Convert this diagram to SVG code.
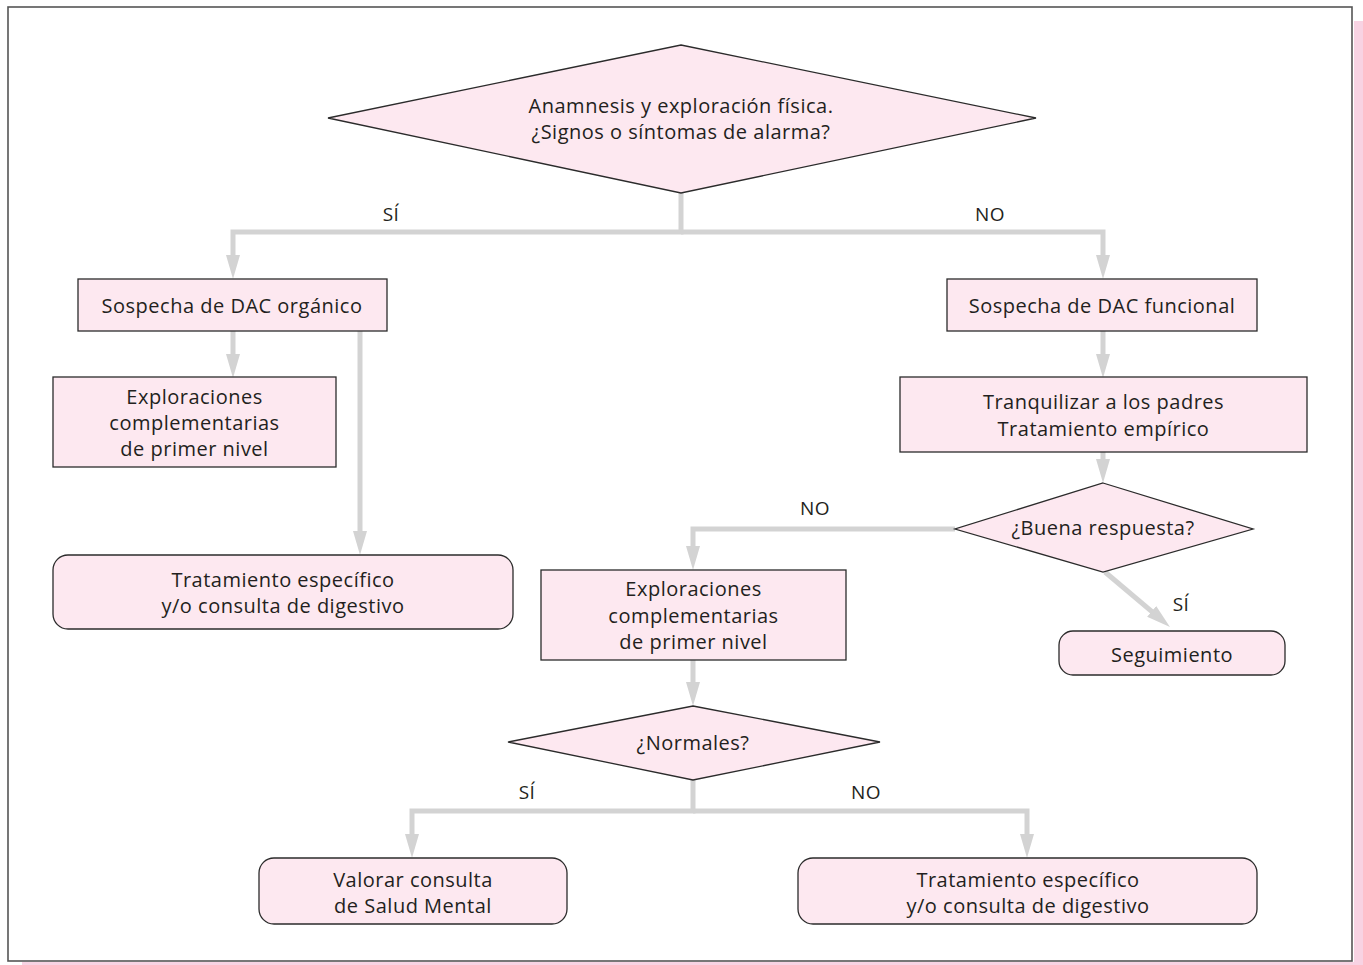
<svg xmlns="http://www.w3.org/2000/svg" width="1363" height="965" viewBox="0 0 1363 965">
<style>
.n{fill:#fde8f0;stroke:#2b2b2b;stroke-width:1.3}
.t{font-family:"Open Sans",Lato,sans-serif;font-size:20px;letter-spacing:0.5px;fill:#231f20;text-anchor:middle;dominant-baseline:central}
.l{font-family:"Open Sans",Lato,sans-serif;font-size:19px;letter-spacing:0.5px;fill:#231f20;text-anchor:middle;dominant-baseline:central}
.c{fill:none;stroke:#d3d3d3;stroke-width:5;marker-end:url(#ah)}
</style>
<defs>
<marker id="ah" markerUnits="userSpaceOnUse" viewBox="0 0 24 14" markerWidth="24" markerHeight="14" refX="12" refY="7" orient="auto">
<path d="M0,0 L24,7 L0,14 z" fill="#d3d3d3"/>
</marker>
</defs>
<rect x="0" y="0" width="1363" height="965" fill="#fff"/>
<rect x="1354" y="21" width="9" height="944" fill="#f8d3e3"/>
<rect x="22" y="962" width="1341" height="3" fill="#f8d3e3"/>
<rect x="8" y="7" width="1344" height="954" fill="none" stroke="#555" stroke-width="1.6"/>

<g id="connectors">
<path class="c" d="M681,193 V232 H233 V267"/>
<path class="c" d="M681,232 H1103 V267"/>
<path class="c" d="M233,331 V366"/>
<path class="c" d="M360,331 V543"/>
<path class="c" d="M1103,331 V366"/>
<path class="c" d="M1103,452 V471"/>
<path class="c" d="M955,529 H693 V558"/>
<path class="c" d="M1105,572 L1160.8,619.2"/>
<path class="c" d="M693,660 V694"/>
<path class="c" d="M693,780 V811 H412 V846"/>
<path class="c" d="M693,811 H1027 V846"/>
<text class="l" x="391" y="214">SÍ</text>
<text class="l" x="990" y="214">NO</text>
<text class="l" x="815" y="508">NO</text>
<text class="l" x="1181" y="604">SÍ</text>
<text class="l" x="527" y="792">SÍ</text>
<text class="l" x="866" y="792">NO</text>
</g>

<g id="d1">
<polygon class="n" points="681,45 1036,118 681,193 328,118"/>
<text class="t" x="681" y="105">Anamnesis y exploración física.</text>
<text class="t" x="681" y="131">¿Signos o síntomas de alarma?</text>
</g>
<g id="organico">
<rect class="n" x="78" y="279" width="309" height="52"/>
<text class="t" x="232" y="305">Sospecha de DAC orgánico</text>
</g>
<g id="expl1">
<rect class="n" x="53" y="377" width="283" height="90"/>
<text class="t" x="194.5" y="396">Exploraciones</text>
<text class="t" x="194.5" y="422">complementarias</text>
<text class="t" x="194.5" y="448">de primer nivel</text>
</g>
<g id="trat1">
<rect class="n" x="53" y="555" width="460" height="74" rx="15"/>
<text class="t" x="283" y="579">Tratamiento específico</text>
<text class="t" x="283" y="605">y/o consulta de digestivo</text>
</g>
<g id="funcional">
<rect class="n" x="947" y="279" width="310" height="52"/>
<text class="t" x="1102" y="305">Sospecha de DAC funcional</text>
</g>
<g id="tranq">
<rect class="n" x="900" y="377" width="407" height="75"/>
<text class="t" x="1103.5" y="401">Tranquilizar a los padres</text>
<text class="t" x="1103.5" y="428">Tratamiento empírico</text>
</g>
<g id="buena">
<polygon class="n" points="1103,483 1253,529 1103,572 955,529"/>
<text class="t" x="1103" y="527">¿Buena respuesta?</text>
</g>
<g id="seguimiento">
<rect class="n" x="1059" y="631" width="226" height="44" rx="14"/>
<text class="t" x="1172" y="654">Seguimiento</text>
</g>
<g id="expl2">
<rect class="n" x="541" y="570" width="305" height="90"/>
<text class="t" x="693.5" y="588">Exploraciones</text>
<text class="t" x="693.5" y="615">complementarias</text>
<text class="t" x="693.5" y="641">de primer nivel</text>
</g>
<g id="normales">
<polygon class="n" points="693,706 880,742 693,780 508,742"/>
<text class="t" x="693" y="742">¿Normales?</text>
</g>
<g id="salud">
<rect class="n" x="259" y="858" width="308" height="66" rx="15"/>
<text class="t" x="413" y="879">Valorar consulta</text>
<text class="t" x="413" y="905">de Salud Mental</text>
</g>
<g id="trat2">
<rect class="n" x="798" y="858" width="459" height="66" rx="15"/>
<text class="t" x="1028" y="879">Tratamiento específico</text>
<text class="t" x="1028" y="905">y/o consulta de digestivo</text>
</g>
</svg>
